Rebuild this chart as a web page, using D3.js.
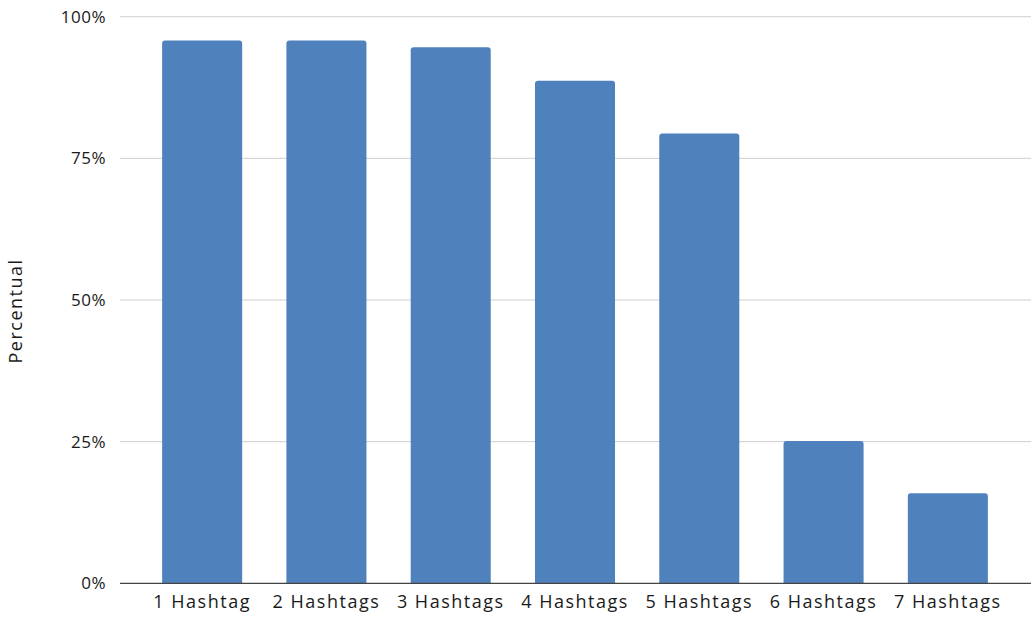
<!DOCTYPE html>
<html>
<head>
<meta charset="utf-8">
<script src="https://cdn.jsdelivr.net/npm/d3@7"></script>
<style>
  html, body { margin: 0; padding: 0; background: #fff; }
  svg { display: block; }
  text { font-family: "Open Sans", sans-serif; fill: #1a1a1a; }
</style>
</head>
<body>
<svg id="chart" width="1033" height="617"></svg>
<script>
// Share of posts per hashtag count
const categories = ["1 Hashtag", "2 Hashtags", "3 Hashtags", "4 Hashtags", "5 Hashtags", "6 Hashtags", "7 Hashtags"];
const values = [0.958, 0.958, 0.946, 0.887, 0.794, 0.251, 0.159];
const yTicks = [0, 0.25, 0.5, 0.75, 1];
const yTitle = "Percentual";

const svg = d3.select("#chart");
const gridLeft = 120, gridRight = 1031;
const plotTop = 16.7, plotBottom = 583.3;

const x = d3.scaleBand().domain(categories).range([140, 1010]).paddingInner(0.356).paddingOuter(0.178);
const y = d3.scaleLinear().domain([0, 1]).range([plotBottom, plotTop]);

// horizontal gridlines
svg.append("g").selectAll("line").data(yTicks.filter(d => d > 0)).join("line")
  .attr("x1", gridLeft).attr("x2", gridRight)
  .attr("y1", d => y(d)).attr("y2", d => y(d))
  .attr("stroke", "#cfcfcf").attr("stroke-width", 1);

// y tick labels
const yAxis = d3.axisLeft(y).tickValues(yTicks).tickFormat(d3.format(".0%")).tickSize(0).tickPadding(0);
const yg = svg.append("g").attr("transform", `translate(106,0)`).call(yAxis);
yg.select(".domain").remove();
yg.selectAll("text").attr("font-size", 17).attr("letter-spacing", 0.5).attr("fill", "#1a1a1a")
  .style("font-family", "'Open Sans', sans-serif");

// bars with slightly rounded tops
svg.append("g").selectAll("path").data(values).join("path")
  .attr("fill", "#4f81bd")
  .attr("d", (d, i) => {
    const x0 = x(categories[i]), w = x.bandwidth(), y0 = y(d), r = 3;
    return `M${x0},${plotBottom}V${y0 + r}Q${x0},${y0} ${x0 + r},${y0}H${x0 + w - r}Q${x0 + w},${y0} ${x0 + w},${y0 + r}V${plotBottom}Z`;
  });

// baseline
svg.append("line").attr("x1", gridLeft).attr("x2", gridRight)
  .attr("y1", plotBottom).attr("y2", plotBottom).attr("stroke", "#444").attr("stroke-width", 1.2);

// x labels
const xAxis = d3.axisBottom(x).tickSize(0).tickPadding(0);
const xg = svg.append("g").attr("transform", `translate(0,${plotBottom + 11.5})`).call(xAxis);
xg.select(".domain").remove();
xg.selectAll("text").attr("font-size", 18).attr("letter-spacing", 1.5).attr("fill", "#1a1a1a").attr("dy", "0.71em")
  .style("font-family", "'Open Sans', sans-serif");

// y title
svg.append("text")
  .attr("transform", `translate(22,${(plotTop + plotBottom) / 2 + 11}) rotate(-90)`)
  .attr("text-anchor", "middle")
  .attr("font-size", 18)
  .attr("letter-spacing", 1.5)
  .text(yTitle);
</script>
</body>
</html>
